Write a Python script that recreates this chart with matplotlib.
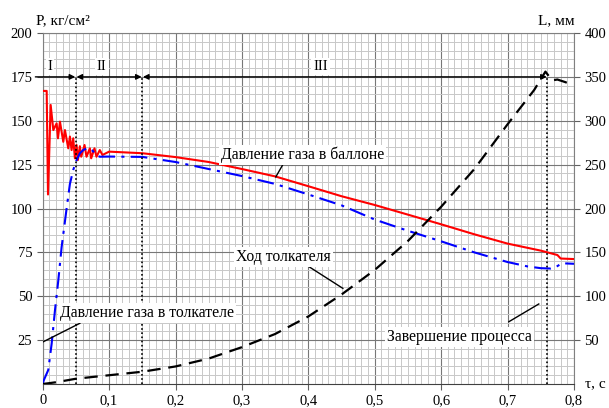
import numpy as np
import matplotlib
matplotlib.use('Agg')
import matplotlib.pyplot as plt
from matplotlib.ticker import MultipleLocator

plt.rcParams['font.family'] = ['Liberation Serif', 'DejaVu Serif']

# gas pressure in the cylinder, kg/cm2
t_cyl = [0, 0.006, 0.008, 0.012, 0.016, 0.021, 0.023, 0.026, 0.031, 0.0335, 0.0385,
         0.041, 0.0435, 0.046, 0.0485, 0.051, 0.053, 0.056, 0.058, 0.063, 0.066,
         0.071, 0.073, 0.078, 0.081, 0.086, 0.09, 0.1, 0.15, 0.2, 0.25, 0.3, 0.35,
         0.4, 0.45, 0.5, 0.55, 0.6, 0.65, 0.7, 0.75, 0.76, 0.775, 0.78, 0.8]
p_cyl = [167, 167, 108, 159, 144.7, 148.5, 140, 149.5, 138, 144.7, 134.3,
         141, 133.3, 140, 128.6, 136.2, 127.6, 135.5, 129.5, 136.2, 129.5,
         134.3, 128.6, 134.3, 129.5, 133.3, 130.5, 132.4, 131.5, 129.3, 126.5, 122.5, 118.3,
         112.7, 107, 102, 96.5, 91, 85.3, 80, 76, 75, 73.5, 71.5, 71.2]

# gas pressure in the pusher, kg/cm2
t_push = [0, 0.0015, 0.0084, 0.0135, 0.0185, 0.0235, 0.0285, 0.036, 0.041, 0.046,
          0.051, 0.056, 0.061, 0.068, 0.075, 0.08, 0.086, 0.1, 0.15, 0.2, 0.25,
          0.3, 0.35, 0.4, 0.45, 0.5, 0.55, 0.6, 0.65, 0.7, 0.73, 0.75, 0.765,
          0.772, 0.782, 0.8]
p_push = [0, 2, 8, 23, 42, 59, 78, 100, 114, 122,
          127.6, 131.5, 133.3, 134.5, 133, 130.5, 129.5, 129.6, 129.4, 126.5, 122.5,
          118.5, 114, 108, 101.8, 93.7, 87.3, 81.3, 75, 69.5, 67, 66, 65.8,
          66.5, 68.8, 68.5]

# pusher stroke, mm
t_stroke = [0, 0.01, 0.02, 0.05, 0.1, 0.15, 0.2, 0.25, 0.3, 0.35, 0.4, 0.45, 0.5,
            0.55, 0.6, 0.65, 0.7, 0.74, 0.757, 0.767, 0.775, 0.787, 0.8]
l_stroke = [0, 1, 2, 6, 10, 14, 20, 29, 42, 57, 77, 102, 130,
            163, 202, 245, 296, 335, 356, 346, 347, 344, 340]

x_ticks = [0, 0.1, 0.2, 0.3, 0.4, 0.5, 0.6, 0.7, 0.8]
x_labels = ['0', '0,1', '0,2', '0,3', '0,4', '0,5', '0,6', '0,7', '0,8']
p_ticks = [25, 50, 75, 100, 125, 150, 175, 200]
l_ticks = [50, 100, 150, 200, 250, 300, 350, 400]
phase_bounds = [0.05, 0.15, 0.76]

fig = plt.figure(figsize=(6.09, 4.08), dpi=100)
ax = fig.add_axes([0.0701, 0.0588, 0.8724, 0.8603])
ax.set_xlim(0, 0.8)
ax.set_ylim(0, 200)
ax.xaxis.set_minor_locator(MultipleLocator(0.01))
ax.yaxis.set_minor_locator(MultipleLocator(5))
ax.grid(which='minor', color='#c8c8c8', lw=0.7)
ax.grid(which='major', color='#777777', lw=0.8)
ax.set_axisbelow(True)
ax.set_xticks(x_ticks)
ax.set_xticklabels(x_labels)
ax.set_yticks(p_ticks)
ax.tick_params(which='minor', length=0)
ax.tick_params(which='major', length=4, color='#606060', labelsize=10.5)
for s in ax.spines.values():
    s.set_color('#808080')
    s.set_linewidth(0.8)
ax.spines['bottom'].set_color('#404040')

ax2 = ax.twinx()
ax2.set_ylim(0, 400)
ax2.set_yticks(l_ticks)
ax2.tick_params(length=4, color='#606060', labelsize=10.5)
for s in ax2.spines.values():
    s.set_visible(False)

ax.plot(t_cyl, p_cyl, color='#ff0000', lw=1.5, zorder=3)
ax.plot(t_push, p_push, color='#0000ff', lw=1.5, ls=(0, (8, 3, 1.5, 3)), zorder=3)
ax2.plot(t_stroke, l_stroke, color='black', lw=1.6, ls=(0, (6, 3.5)))

# phase boundaries and arrows
for xb in phase_bounds:
    ax.plot([xb, xb], [0, 175], color='black', lw=1.2, ls=(0, (1, 1.5)), zorder=4)
arr = dict(color='black', lw=1, shrinkA=0, shrinkB=0, mutation_scale=8)
ax.annotate('', xy=(0.049, 175), xytext=(-0.011, 175), annotation_clip=False,
            arrowprops=dict(arrowstyle='-|>', **arr))
ax.annotate('', xy=(0.149, 175), xytext=(0.051, 175),
            arrowprops=dict(arrowstyle='<|-|>', **arr))
ax.annotate('', xy=(0.759, 175), xytext=(0.151, 175),
            arrowprops=dict(arrowstyle='<|-|>', **arr))
box = dict(facecolor='white', edgecolor='none', pad=1.5)
for lbl, xl in [('I', 0.011), ('II', 0.089), ('III', 0.418)]:
    ax.text(xl, 181, lbl, ha='center', va='center', fontsize=10.5, bbox=box, zorder=5)

# curve labels
notes = [
    ('Давление газа в баллоне', 0.391, 130.5, (0.364, 126.6), (0.351, 118)),
    ('Ход толкателя', 0.362, 72.5, (0.397, 67.8), (0.452, 54.5)),
    ('Давление газа в толкателе', 0.157, 40.3, (0.056, 34.6), (0.001, 24.1)),
    ('Завершение процесса', 0.627, 26.8, (0.702, 35.5), (0.747, 45.6)),
]
for txt, xt, yt, p1, p2 in notes:
    ax.plot([p1[0], p2[0]], [p1[1], p2[1]], color='black', lw=1, zorder=5)
    ax.text(xt, yt, txt, ha='center', va='center', fontsize=11.3, bbox=box, zorder=6)

fig.text(36 / 609, 1 - 21 / 408, 'P, кг/см²', ha='left', va='center', fontsize=11)
fig.text(575 / 609, 1 - 21 / 408, 'L, мм', ha='right', va='center', fontsize=11)
fig.text(585 / 609, 1 - 384 / 408, 'τ, с', ha='left', va='center', fontsize=11)

fig.savefig('out.png', dpi=100)
